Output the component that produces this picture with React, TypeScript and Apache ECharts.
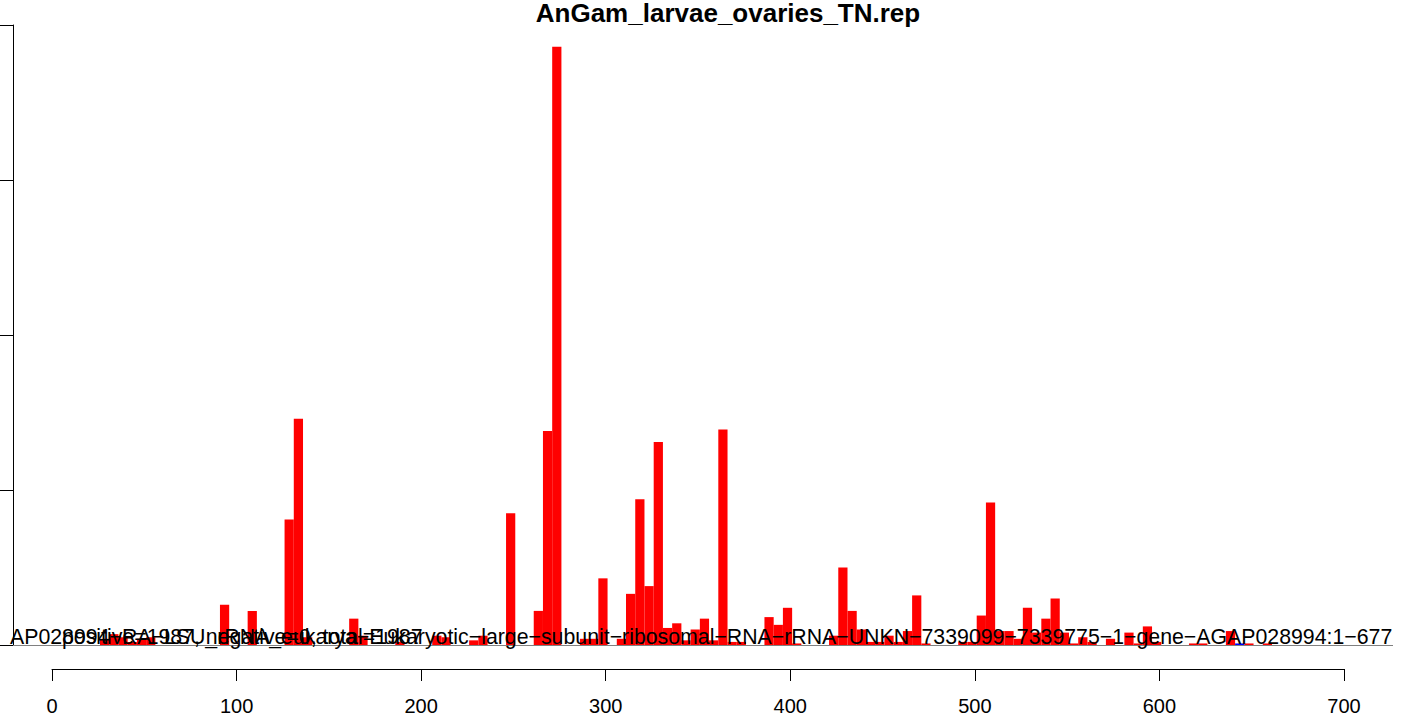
import React, { useEffect, useRef } from "react";
import * as echarts from "echarts";

const chartTitle = "AnGam_larvae_ovaries_TN.rep";
const geneLabel =
  "AP028994\u2212RA\u2212LSU_rRNA_eukarya\u2212Eukaryotic\u2212large\u2212subunit\u2212ribosomal\u2212RNA\u2212rRNA\u2212UNKN\u22127339099\u22127339775\u22121\u2212gene\u2212AGAP028994:1\u2212677";
const countLabel = "positive=1987, negative=0, total=1987";

const binWidth = 5;
const binStart = [
  26, 31, 36, 41, 46, 51, 91, 106, 126, 131, 136, 161, 166, 186, 206, 211, 226, 231, 246, 261,
  266, 271, 286, 291, 296, 306, 311, 316, 321, 326, 331, 336, 341, 346, 351, 356, 361, 366, 371,
  386, 391, 396, 401, 421, 426, 431, 436, 441, 446, 451, 456, 461, 466, 471, 491, 496, 501, 506,
  511, 516, 521, 526, 531, 536, 541, 546, 551, 556, 561, 571, 581, 586, 591, 596, 616, 621, 636,
  646, 656,
];
const readCount = [
  4, 7, 5, 2, 4, 5, 26, 22, 81, 146, 5, 17, 6, 2, 6, 5, 3, 6, 85, 22,
  138, 386, 4, 4, 43, 4, 33, 94, 38, 131, 11, 14, 3, 10, 17, 3, 139, 2, 2,
  18, 13, 24, 1, 6, 50, 22, 10, 2, 2, 6, 2, 9, 32, 1, 2, 2, 19, 92,
  9, 9, 4, 24, 8, 17, 30, 8, 1, 5, 2, 4, 8, 1, 12, 2, 1, 1, 9,
  1, 1,
];
const negStart = [641];
const negCount = [1];

const xTicks = [0, 700, 100];
const yTicks = [0, 400, 100];

const FONT = "'Liberation Sans', Arial, Helvetica, sans-serif";

function barRender(color: string) {
  return (params: any, api: any) => {
    const s = api.value(0);
    const v = api.value(1);
    const p0 = api.coord([s, 0]);
    const p1 = api.coord([s + binWidth, v]);
    return {
      type: "rect",
      shape: { x: p0[0], y: p1[1], width: p1[0] - p0[0], height: p0[1] - p1[1] },
      style: { fill: color },
    };
  };
}

export default function App() {
  const ref = useRef<HTMLDivElement>(null);
  useEffect(() => {
    if (!ref.current) return;
    const chart = echarts.init(ref.current, undefined, { renderer: "svg" });
    const pxPerUnit = 1292 / 700;
    chart.setOption({
      animation: false,
      backgroundColor: "#ffffff",
      grid: [
        { left: 13, top: 25, width: 1380, height: 620, containLabel: false, outerBoundsMode: "none" },
        { left: 52, top: 23, width: 1292, height: 646, containLabel: false, outerBoundsMode: "none" },
      ],
      xAxis: [
        {
          gridIndex: 0,
          type: "value",
          min: -(52 - 13) / pxPerUnit,
          max: 700 + (1393 - 1344) / pxPerUnit,
          show: false,
        },
        {
          gridIndex: 1,
          type: "value",
          min: xTicks[0],
          max: xTicks[1],
          interval: xTicks[2],
          axisLine: { show: true, onZero: false, lineStyle: { color: "#000", width: 1 } },
          axisTick: { show: true, inside: false, length: 12, lineStyle: { color: "#000", width: 1 } },
          axisLabel: { show: true, fontSize: 20, color: "#000", fontFamily: FONT, margin: 27 },
          splitLine: { show: false },
        },
      ],
      yAxis: [
        {
          gridIndex: 0,
          type: "value",
          min: yTicks[0],
          max: yTicks[1],
          interval: yTicks[2],
          axisLine: { show: true, onZero: false, lineStyle: { color: "#000", width: 1 } },
          axisTick: { show: true, inside: false, length: 13, lineStyle: { color: "#000", width: 1 } },
          axisLabel: { show: false },
          splitLine: { show: false },
        },
        { gridIndex: 1, type: "value", min: 0, max: 1, show: false },
      ],
      series: [
        {
          type: "custom",
          xAxisIndex: 0,
          yAxisIndex: 0,
          renderItem: barRender("#FF0000"),
          data: binStart.map((s, i) => [s, readCount[i]]),
          encode: { x: 0, y: 1 },
          clip: false,
          markLine: {
            silent: true,
            symbol: "none",
            label: { show: false },
            lineStyle: { color: "#808080", width: 1, type: "solid" },
            data: [{ yAxis: 0 }],
          },
        },
        {
          type: "custom",
          xAxisIndex: 0,
          yAxisIndex: 0,
          renderItem: barRender("#0000FF"),
          data: negStart.map((s, i) => [s, negCount[i]]),
          encode: { x: 0, y: 1 },
          clip: false,
        },
      ],
      graphic: [
        {
          type: "text",
          z: 100,
          x: 728,
          y: 13,
          style: {
            text: chartTitle,
            fill: "#000",
            font: `bold 26px ${FONT}`,
            textAlign: "center",
            textVerticalAlign: "middle",
          },
        },
        {
          type: "text",
          z: 100,
          x: 10,
          y: 636.6,
          style: {
            text: geneLabel,
            fill: "#000",
            font: `21.3px ${FONT}`,
            textAlign: "left",
            textVerticalAlign: "middle",
          },
        },
        {
          type: "text",
          z: 100,
          x: 62,
          y: 636.6,
          style: {
            text: countLabel,
            fill: "#000",
            font: `21.3px ${FONT}`,
            textAlign: "left",
            textVerticalAlign: "middle",
          },
        },
      ],
    });
    return () => chart.dispose();
  }, []);
  return (
    <div
      ref={ref}
      style={{ position: "fixed", left: 0, top: 0, width: 1415, height: 719, background: "#fff" }}
    />
  );
}
